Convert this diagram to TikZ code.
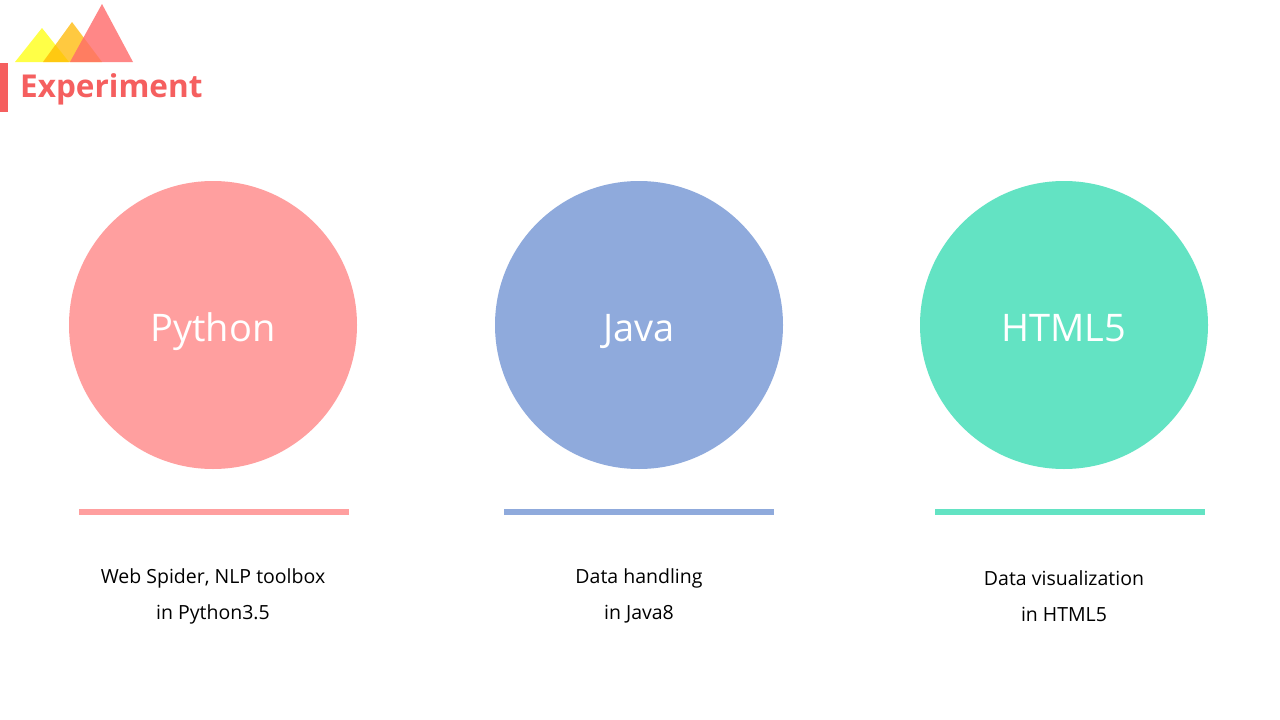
\documentclass[tikz,border=0pt]{standalone}
\usepackage{fontspec}
\setmainfont{Open Sans}
\definecolor{cred}{HTML}{FF9F9F}
\definecolor{cblue}{HTML}{8FAADC}
\definecolor{cgreen}{HTML}{63E3C3}
\definecolor{tred}{HTML}{F55F5F}
\definecolor{tyel}{HTML}{FFFF33}
\definecolor{tora}{HTML}{FFB800}
\definecolor{tpink}{HTML}{FF6A6A}
\tikzset{
  circ/.style={circle, minimum size=288pt, inner sep=0pt},
  ctext/.style={text=white, font=\fontsize{38}{40}\selectfont, anchor=base, inner sep=0pt},
  bar/.style={line width=6pt},
  lbl/.style={align=center, font=\fontsize{19.5}{36}\selectfont, text=black},
}
\begin{document}
\begin{tikzpicture}[x=1pt,y=-1pt]
\useasboundingbox (0,0) rectangle (1280,720);
\fill[white] (0,0) rectangle (1280,720);
% logo
\fill[tyel, opacity=0.9] (15,62) -- (42,28) -- (69,62) -- cycle;
\fill[tora, opacity=0.75] (43,62) -- (72,22) -- (102,62) -- cycle;
\fill[tpink, opacity=0.8] (70,62) -- (102,4) -- (133,62) -- cycle;
\fill[tred] (0,63) rectangle (8,112);
\node[anchor=base west, inner sep=0pt, text=tred, font=\fontsize{31.5}{36}\selectfont\bfseries] (title) at (20,97) {Experiment};
% circles
\node[circ, fill=cred] (py) at (213,325) {};
\node[circ, fill=cblue] (ja) at (639,325) {};
\node[circ, fill=cgreen] (ht) at (1064,325) {};
\node[ctext] (pyt) at (213,341) {Python};
\node[ctext] (jat) at (639,341) {Java};
\node[ctext] (htt) at (1064,341) {HTML5};
% bars
\coordinate (b1a) at (79,512); \coordinate (b1b) at (349,512);
\coordinate (b2a) at (504,512); \coordinate (b2b) at (774,512);
\coordinate (b3a) at (935,512); \coordinate (b3b) at (1205,512);
\draw[bar, cred] (b1a) -- (b1b);
\draw[bar, cblue] (b2a) -- (b2b);
\draw[bar, cgreen] (b3a) -- (b3b);
% labels
\node[lbl] (l1) at (213,596) {Web Spider, NLP toolbox\\in Python3.5};
\node[lbl] (l2) at (639,596) {Data handling\\in Java8};
\node[lbl] (l3) at (1064,596) {Data visualization\\in HTML5};
\end{tikzpicture}
\end{document}
